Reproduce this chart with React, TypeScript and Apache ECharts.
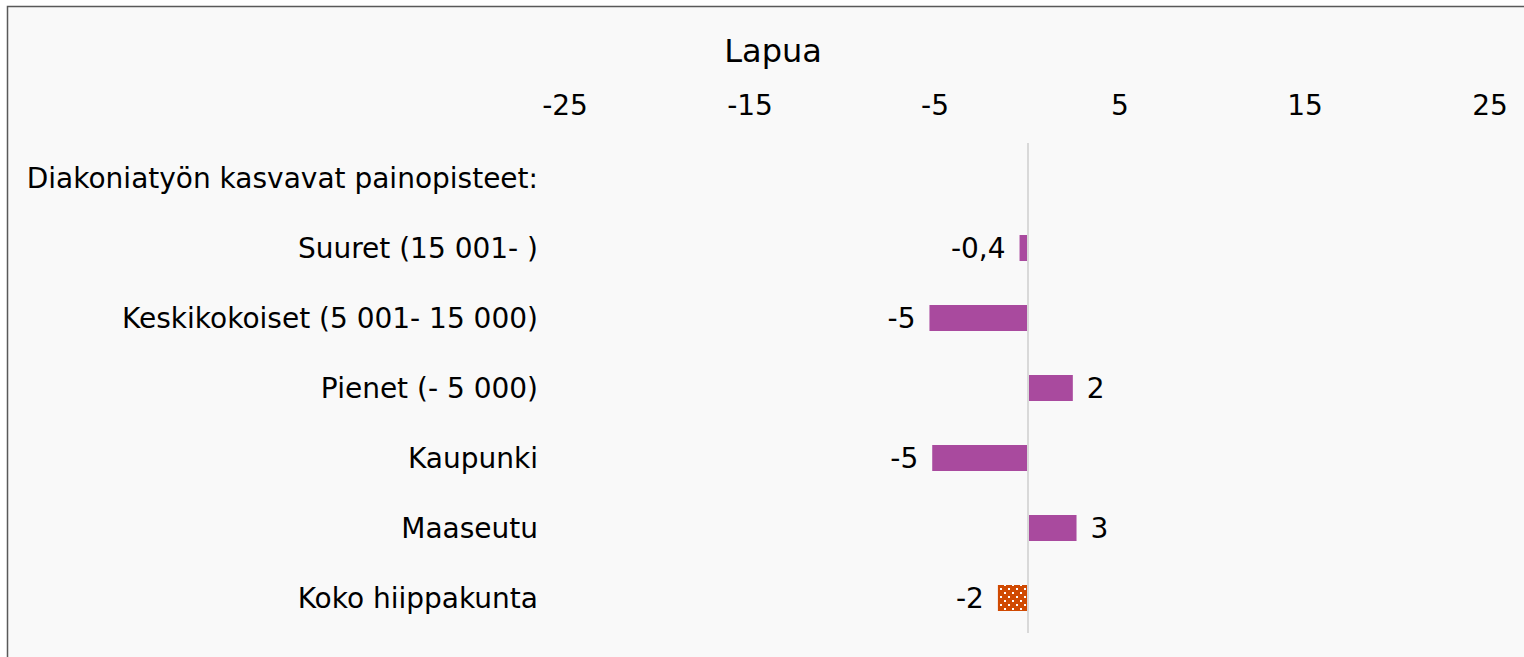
import React, { useEffect, useRef } from "react";
import * as echarts from "echarts";

const categories = [
  "Diakoniatyön kasvavat painopisteet:",
  "Suuret (15 001- )",
  "Keskikokoiset (5 001- 15 000)",
  "Pienet (- 5 000)",
  "Kaupunki",
  "Maaseutu",
  "Koko hiippakunta",
];
const values: (number | null)[] = [null, -0.43, -5.3, 2.45, -5.15, 2.65, -1.6];
const valueLabels = ["", "-0,4", "-5", "2", "-5", "3", "-2"];
const xTicks = [-25, -15, -5, 5, 15, 25];
const title = "Lapua";

const FONT = "DejaVu Sans";

export default function App() {
  const ref = useRef<HTMLDivElement>(null);
  useEffect(() => {
    if (!ref.current) return;
    const chart = echarts.init(ref.current, undefined, { renderer: "svg" });
    const data = values.map((v, i) => {
      if (v === null) return { value: "-" as any };
      const isTotal = i === values.length - 1;
      return {
        value: v,
        itemStyle: isTotal
          ? {
              color: "#D04A02",
              decal: {
                symbol: "rect",
                symbolSize: 1,
                color: "#ffffff",
                dashArrayX: [[2, 6], [0, 4, 2, 2]],
                dashArrayY: [2, 2],
                rotation: 0,
              },
            }
          : { color: "#A94A9E" },
      };
    });
    chart.setOption({
      animation: false,
      backgroundColor: "#ffffff",
      textStyle: { fontFamily: FONT },
      graphic: [
        {
          type: "rect",
          shape: { x: 7.5, y: 6.5, width: 1540, height: 680 },
          style: { fill: "#f9f9f9", stroke: "#595959", lineWidth: 1.5 },
          z: -10,
          silent: true,
        },
      ],
      title: {
        text: title,
        left: 768,
        top: 30,
        textAlign: "center",
        textStyle: { fontFamily: FONT, fontSize: 32, fontWeight: "normal", color: "#000" },
      },
      grid: { left: 565, right: 34, top: 143, bottom: 24, containLabel: false },
      xAxis: {
        type: "value",
        position: "top",
        min: -25,
        max: 25,
        interval: 10,
        axisLine: { show: false },
        axisTick: { show: false },
        splitLine: { show: false },
        axisLabel: {
          fontFamily: FONT,
          fontSize: 28,
          color: "#000",
          margin: 24,
          formatter: (v: number) => (xTicks.includes(v) ? String(v) : ""),
        },
      },
      yAxis: {
        type: "category",
        inverse: true,
        data: categories,
        axisLine: { show: false },
        axisTick: { show: false },
        axisLabel: { fontFamily: FONT, fontSize: 28, color: "#000", margin: 27 },
      },
      series: [
        {
          type: "bar",
          data,
          barWidth: 26,
          label: {
            show: true,
            position: "outside",
            distance: 14,
            fontFamily: FONT,
            fontSize: 28,
            color: "#000",
            formatter: (p: any) => valueLabels[p.dataIndex],
          },
          markLine: {
            silent: true,
            symbol: "none",
            label: { show: false },
            lineStyle: { color: "#d9d9d9", type: "solid", width: 2 },
            data: [{ xAxis: 0 }],
          },
        },
      ],
    });
    return () => chart.dispose();
  }, []);
  return (
    <div
      ref={ref}
      style={{ position: "fixed", left: 0, top: 0, width: 1524, height: 657 }}
    />
  );
}
